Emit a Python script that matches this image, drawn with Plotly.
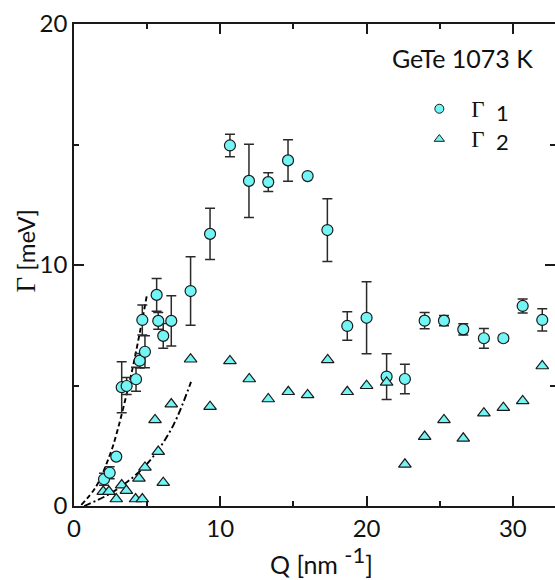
import plotly.graph_objects as go

# Linewidth Gamma_1 (meV) versus Q (nm^-1), with error bars
q1 = [2.05, 2.44, 2.89, 3.26, 3.60, 4.24, 4.49, 4.67, 4.85, 5.65, 5.76, 6.10, 6.65,
      7.97, 9.30, 10.66, 11.96, 13.28, 14.63, 15.97, 17.32, 18.68, 20.00, 21.37,
      22.62, 23.97, 25.29, 26.61, 28.02, 29.35, 30.67, 32.01]
g1 = [1.11, 1.38, 2.05, 4.93, 4.98, 5.26, 6.03, 7.72, 6.40, 8.76, 7.68, 7.06, 7.68,
      8.92, 11.29, 14.96, 13.49, 13.44, 14.34, 13.69, 11.45, 7.47, 7.81, 5.37,
      5.27, 7.69, 7.69, 7.33, 6.96, 6.96, 8.30, 7.72]
e1 = [0.25, 0.25, 0.0, 1.06, 0.35, 0.50, 0.30, 0.62, 0.66, 0.68, 0.35, 0.51, 1.04,
      1.42, 1.06, 0.47, 1.52, 0.39, 0.86, 0.0, 1.30, 0.59, 1.49, 0.95,
      0.61, 0.34, 0.21, 0.23, 0.41, 0.12, 0.29, 0.46]

# Linewidth Gamma_2 (meV) versus Q (nm^-1)
q2 = [2.00, 2.39, 2.89, 3.26, 3.58, 4.21, 4.44, 4.67, 4.85, 5.54, 5.76, 6.10, 6.65,
      7.97, 9.30, 10.66, 11.98, 13.28, 14.65, 15.97, 17.34, 18.68, 20.00, 21.37,
      22.62, 23.97, 25.29, 26.61, 28.02, 29.35, 30.67, 32.01]
g2 = [0.60, 0.60, 0.29, 0.87, 0.64, 0.29, 1.15, 0.29, 1.60, 3.57, 2.26, 0.97, 4.23,
      6.09, 4.12, 6.02, 5.27, 4.44, 4.74, 4.61, 6.06, 4.74, 4.99, 5.13,
      1.73, 2.88, 3.57, 2.81, 3.85, 4.08, 4.36, 5.81]

# Low-Q guide curves
fit1_q = [0.5, 1.5, 2.5, 3.0, 3.5, 4.0, 4.5, 5.0]
fit1_g = [0.05, 0.80, 2.20, 3.20, 4.40, 5.70, 7.20, 8.80]
fit2_q = [0.7, 2.28, 3.42, 4.56, 5.69, 6.83, 8.0]
fit2_g = [0.0, 0.45, 0.90, 1.48, 2.27, 3.40, 5.15]

# legend labels and their subscripts
series_names = ["Γ", "Γ"]
series_subs = ["1", "2"]

CYAN = "#74F5F5"
EDGE = "#1a1a1a"
SANS = "Lato"
SERIF = "Liberation Serif"

fig = go.Figure()

fig.add_trace(go.Scatter(
    x=fit1_q, y=fit1_g, mode="lines", line_shape="spline",
    line=dict(color="black", width=1.9, dash="5px,3px"), showlegend=False))
fig.add_trace(go.Scatter(
    x=fit2_q, y=fit2_g, mode="lines", line_shape="spline",
    line=dict(color="black", width=1.9, dash="7px,3px,2px,3px"), showlegend=False))

fig.add_trace(go.Scatter(
    x=q1, y=g1, mode="markers", showlegend=False,
    marker=dict(symbol="circle", size=11, color=CYAN, line=dict(color=EDGE, width=1.2)),
    error_y=dict(type="data", array=e1, visible=True, color="#2a2a2a", thickness=1.5, width=5)))
fig.add_trace(go.Scatter(
    x=q2, y=g2, mode="markers", showlegend=False,
    marker=dict(symbol="triangle-up", size=11, color=CYAN, line=dict(color=EDGE, width=1.2))))

# legend entries
big = "<span style='font-size:23px'>%s</span>"
fig.add_trace(go.Scatter(
    x=[None], y=[None], mode="markers", name=big % series_names[0],
    marker=dict(symbol="circle", size=9, color=CYAN, line=dict(color=EDGE, width=1))))
fig.add_trace(go.Scatter(
    x=[None], y=[None], mode="markers", name=big % series_names[1],
    marker=dict(symbol="triangle-up", size=9, color=CYAN, line=dict(color=EDGE, width=1))))

# right-hand ticks without a spine
fig.add_trace(go.Scatter(x=[None], y=[None], yaxis="y2", showlegend=False))

axis_common = dict(
    showgrid=False, zeroline=False, ticks="inside", ticklen=10, tickwidth=1.5,
    tickcolor=EDGE, tickfont=dict(family=SANS, size=24, color="#111"))
minor_ticks = dict(dtick=5, ticklen=5, ticks="inside", tickcolor=EDGE, tickwidth=1.5)

annotations = [
    dict(text="GeTe 1073 K", x=0.807, y=0.93, xref="paper", yref="paper",
         showarrow=False, xanchor="center", yanchor="middle",
         font=dict(family=SANS, size=25, color="#111")),
    dict(text="Q [nm <sup><span style='font-size:22px'>-1</span></sup>]",
         x=0.515, y=-0.112, xref="paper", yref="paper",
         showarrow=False, xanchor="center", yanchor="middle",
         font=dict(family=SANS, size=25, color="#111")),
    dict(text="<span style='font-family:Liberation Serif;font-size:27px'>Γ</span> [meV]",
         x=-0.1, y=0.53, xref="paper", yref="paper", textangle=-90,
         showarrow=False, xanchor="center", yanchor="middle",
         font=dict(family=SANS, size=24, color="#111")),
    # subscripts next to the legend symbols, one per row
    dict(text="<br>".join(series_subs), x=0.891, y=0.786, xref="paper", yref="paper",
         showarrow=False, xanchor="center", yanchor="middle",
         font=dict(family=SANS, size=22, color="#111")),
]

fig.update_layout(
    width=555, height=580,
    margin=dict(l=74, r=0, t=24, b=74),
    plot_bgcolor="white", paper_bgcolor="white",
    xaxis=dict(range=[0, 32.88], dtick=10, tick0=0, showline=True, linecolor=EDGE,
               linewidth=1.6, mirror="ticks", minor=minor_ticks, **axis_common),
    yaxis=dict(range=[0, 20], dtick=10, tick0=0, showline=True, linecolor=EDGE,
               linewidth=1.6, minor=minor_ticks, **axis_common),
    yaxis2=dict(range=[0, 20], dtick=10, tick0=0, overlaying="y", side="right",
                anchor="x", showline=False, showticklabels=False,
                minor=minor_ticks, **axis_common),
    legend=dict(x=0.693, y=0.866, xanchor="left", yanchor="top",
                bgcolor="rgba(0,0,0,0)", itemwidth=54, tracegroupgap=0,
                font=dict(family=SERIF, size=21, color="#111")),
    annotations=annotations,
)

fig.write_html("out.html")
